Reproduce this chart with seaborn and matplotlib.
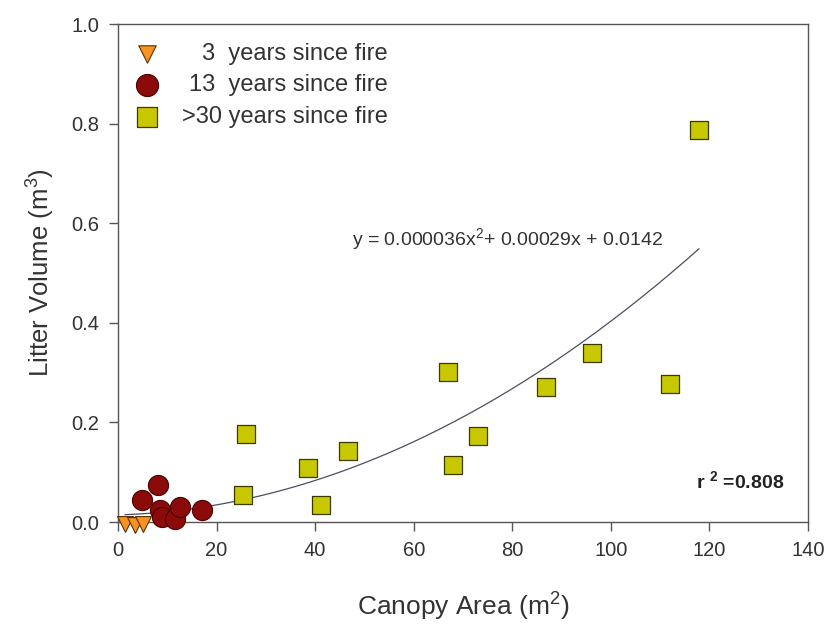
import numpy as np
import pandas as pd
import matplotlib
matplotlib.use("Agg")
import matplotlib.pyplot as plt
import seaborn as sns

# ---- data ----
tri_x = [1.4, 3.4, 5.1]
tri_y = [-0.004, -0.006, -0.004]

circ_x = [4.8, 8.2, 8.5, 8.9, 11.6, 12.6, 17.0]
circ_y = [0.045, 0.074, 0.024, 0.011, 0.007, 0.031, 0.024]

sq_x = [25.4, 25.9, 38.5, 41.1, 46.7, 67.0, 68.0, 73.1, 86.9, 96.2, 112.1, 117.9]
sq_y = [0.054, 0.176, 0.109, 0.034, 0.143, 0.301, 0.114, 0.172, 0.272, 0.339, 0.277, 0.787]

group_labels = ["3  years since fire", "13  years since fire", ">30 years since fire"]

fit_a, fit_b, fit_c = 0.000036, 0.00029, 0.0142
eq_text = "y = 0.000036x$^{2}$+ 0.00029x + 0.0142"
r2_text = r"r $^{\mathbf{2}}$ =0.808"

x_ticks = [0, 20, 40, 60, 80, 100, 120, 140]
y_ticks = [0.0, 0.2, 0.4, 0.6, 0.8, 1.0]

# ---- style ----
sns.set_style("ticks")
plt.rcParams["font.family"] = ["Liberation Sans", "DejaVu Sans"]
plt.rcParams["mathtext.fontset"] = "custom"
plt.rcParams["mathtext.rm"] = "Liberation Sans"
plt.rcParams["mathtext.it"] = "Liberation Sans:italic"
plt.rcParams["mathtext.bf"] = "Liberation Sans:bold"

txt_col = "#333333"
W, H = 828, 625
fig = plt.figure(figsize=(W / 100, H / 100), dpi=100)
L, R, T, B = 118, 808, 24, 522
ax = fig.add_axes([L / W, (H - B) / H, (R - L) / W, (B - T) / H])

# fit curve (from the printed equation)
all_x = tri_x + circ_x + sq_x
fx = np.linspace(min(all_x), max(all_x), 200)
fit_df = pd.DataFrame({"x": fx, "y": fit_a * fx**2 + fit_b * fx + fit_c})
sns.lineplot(data=fit_df, x="x", y="y", ax=ax, color="#4d4d60", linewidth=0.9, zorder=1)

tri_df = pd.DataFrame({"x": tri_x, "y": tri_y})
circ_df = pd.DataFrame({"x": circ_x, "y": circ_y})
sq_df = pd.DataFrame({"x": sq_x, "y": sq_y})

sns.scatterplot(data=tri_df, x="x", y="y", ax=ax, marker="v", s=130,
                color="#F7931E", edgecolor="#5a3000", linewidth=0.8,
                label=group_labels[0], zorder=3, clip_on=False)
sns.scatterplot(data=circ_df, x="x", y="y", ax=ax, marker="o", s=210,
                color="#8B0A0A", edgecolor="#4a0000", linewidth=0.8,
                label=group_labels[1], zorder=4, clip_on=False)
sns.scatterplot(data=sq_df, x="x", y="y", ax=ax, marker="s", s=160,
                color="#C8C800", edgecolor="#3a3a00", linewidth=0.9,
                label=group_labels[2], zorder=5, clip_on=False)

ax.set_xlim(0, 140)
ax.set_ylim(0, 1.0)
ax.set_xticks(x_ticks)
ax.set_yticks(y_ticks)
ax.set_xticklabels([str(v) for v in x_ticks])
ax.set_yticklabels([f"{v:.1f}" for v in y_ticks])

for sp in ax.spines.values():
    sp.set_visible(True)
    sp.set_color("#555555")
    sp.set_linewidth(1.0)
ax.tick_params(axis="both", direction="out", length=6.5, width=1.0, color="#555555",
               labelsize=14.5, labelcolor=txt_col, pad=7)
ax.tick_params(top=False, right=False)

ax.set_xlabel("Canopy Area (m$^{2}$)", fontsize=19, color=txt_col)
ax.set_ylabel("Litter Volume (m$^{3}$)", fontsize=18.5, color=txt_col)
ax.xaxis.set_label_coords(0.5, -0.138)
ax.yaxis.set_label_coords(-0.088, 0.5)

ax.text(0.339, 0.5562, eq_text, transform=ax.transAxes, fontsize=14,
        color=txt_col, ha="left", va="baseline")
ax.text(0.965, 0.0683, r2_text, transform=ax.transAxes, fontsize=14,
        fontweight="bold", color="#222222", ha="right", va="baseline")

leg = ax.legend(loc="upper left", bbox_to_anchor=(0.025, 0.962), frameon=False,
                fontsize=17, borderaxespad=0, borderpad=0, handlelength=1.0,
                handletextpad=1.0, labelspacing=0.4, markerscale=1.1)

# right-align the legend texts as in the reference
fig.canvas.draw()
rend = fig.canvas.get_renderer()
texts = leg.get_texts()
bbs = [t.get_window_extent(rend) for t in texts]
x_right = 388
for t, bb in zip(texts, bbs):
    t.set_visible(False)
    fig.text(x_right / W, bb.y0 / H, t.get_text(), fontsize=17, color=txt_col,
             ha="right", va="bottom")

fig.savefig("out.png", dpi=100)
